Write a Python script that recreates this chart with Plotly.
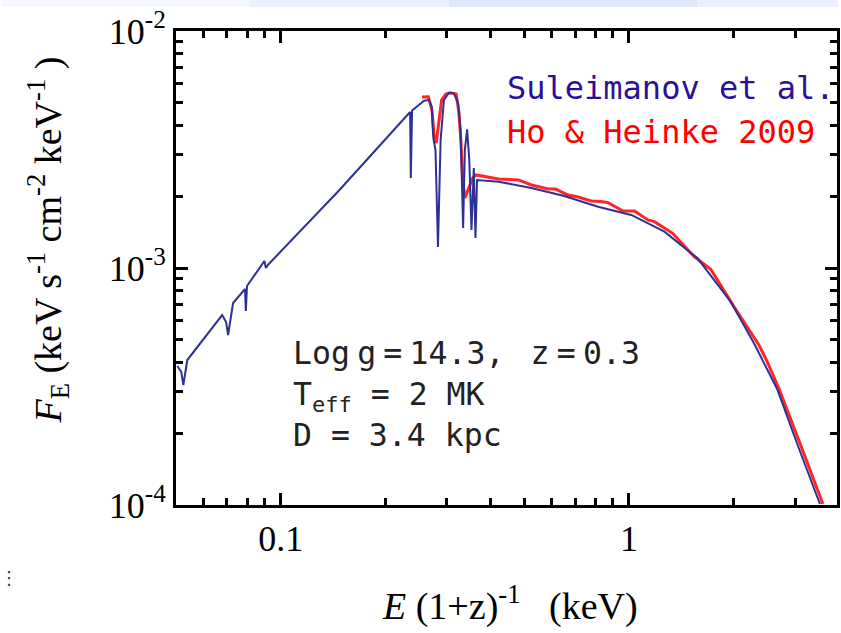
import plotly.graph_objects as go

# ---- data ----
# Suleimanov et al. model spectrum (blue)
sul_E = [0.05045, 0.05180, 0.05248, 0.05388, 0.06784, 0.06965, 0.07057, 0.07293,
         0.07893, 0.07935, 0.07998, 0.08883, 0.08972, 0.09061, 0.09180, 0.1474,
         0.2352, 0.2363, 0.2383, 0.2579, 0.2665, 0.2713, 0.2742, 0.2782, 0.2828,
         0.2878, 0.2942, 0.3040, 0.3142, 0.3232, 0.3283, 0.3340, 0.3378, 0.3429,
         0.3479, 0.3530, 0.3584, 0.3624, 0.3662, 0.4224, 0.5248, 0.6520, 0.8154,
         1.0153, 1.2647, 1.5745, 1.960, 2.287, 2.665, 3.060, 3.537]
sul_F = [3.859e-4, 3.640e-4, 3.209e-4, 4.090e-4, 6.333e-4, 5.919e-4, 5.215e-4, 7.117e-4,
         8.156e-4, 6.584e-4, 8.396e-4, 1.050e-3, 1.070e-3, 1.000e-3, 1.030e-3, 2.134e-3,
         4.551e-3, 2.398e-3, 4.618e-3, 5.081e-3, 5.115e-3, 4.792e-3, 3.537e-3, 3.147e-3, 1.226e-3,
         3.469e-3, 5.115e-3, 5.491e-3, 5.459e-3, 4.954e-3, 3.822e-3, 1.475e-3, 3.147e-3, 3.849e-3,
         2.856e-3, 1.447e-3, 2.642e-3, 1.339e-3, 2.352e-3, 2.313e-3, 2.176e-3, 2.013e-3, 1.814e-3,
         1.674e-3, 1.423e-3, 1.099e-3, 7.207e-4, 4.813e-4, 3.086e-4, 1.774e-4, 1.010e-4]

# Ho & Heinke 2009 model spectrum (red)
ho_E = [0.2545, 0.2653, 0.2718, 0.2754, 0.2796, 0.2846, 0.2897, 0.2981, 0.3074, 0.3190,
        0.3247, 0.3290, 0.3333, 0.3378, 0.3483, 0.3560, 0.3638, 0.4224, 0.4818, 0.5248,
        0.5871, 0.6148, 0.6694, 0.7150, 0.7788, 0.8318, 0.8710, 0.9613, 1.0382, 1.1330,
        1.1841, 1.3358, 1.5407, 1.7184, 2.0045, 2.287, 2.3627, 2.4955, 2.700, 3.121, 3.607]
ho_F = [5.267e-3, 5.282e-3, 4.642e-3, 3.642e-3, 3.369e-3, 4.212e-3, 5.115e-3, 5.422e-3, 5.491e-3, 5.422e-3,
        4.551e-3, 3.469e-3, 2.352e-3, 1.974e-3, 2.197e-3, 2.398e-3, 2.469e-3, 2.375e-3, 2.352e-3, 2.240e-3,
        2.154e-3, 2.154e-3, 2.032e-3, 1.993e-3, 1.918e-3, 1.908e-3, 1.886e-3, 1.740e-3, 1.740e-3, 1.595e-3,
        1.569e-3, 1.401e-3, 1.116e-3, 9.875e-4, 6.866e-4, 5.130e-4, 4.734e-4, 4.025e-4, 3.086e-4, 1.774e-4, 1.010e-4]

x_major = [0.1, 1]
x_major_text = ["0.1", "1"]
x_minor = [0.06, 0.07, 0.08, 0.09, 0.2, 0.3, 0.4, 0.5, 0.6, 0.7, 0.8, 0.9, 2, 3]
y_major = [1e-4, 1e-3, 1e-2]
y_major_text = ["10<sup>-4</sup>", "10<sup>-3</sup>", "10<sup>-2</sup>"]
y_minor = [2e-4, 3e-4, 4e-4, 5e-4, 6e-4, 7e-4, 8e-4, 9e-4,
           2e-3, 3e-3, 4e-3, 5e-3, 6e-3, 7e-3, 8e-3, 9e-3]

BLUE = "#2e3192"
RED = "#ff2428"
SERIF = "Liberation Serif"
MONO = "DejaVu Sans Mono"

fig = go.Figure()
fig.add_trace(go.Scatter(x=ho_E, y=ho_F, mode="lines", name="Ho & Heinke 2009",
                         line=dict(color=RED, width=3), showlegend=False))
fig.add_trace(go.Scatter(x=sul_E, y=sul_F, mode="lines", name="Suleimanov et al.",
                         line=dict(color=BLUE, width=2), showlegend=False))

L, R, T, B = 176, 1, 31, 128
W, H = 841, 633
pw, ph = W - L - R, H - T - B


def px(x):
    return (x - L) / pw


def py(y):
    return (H - B - y) / ph


axis_common = dict(showline=True, linecolor="black", linewidth=3, mirror="allticks",
                   ticks="inside", ticklen=12, tickwidth=3, tickcolor="black",
                   showgrid=False, zeroline=False,
                   tickfont=dict(family=SERIF, size=36, color="black"))

fig.update_xaxes(type="log", range=[-1.30103, 0.5977], tickvals=x_major, ticktext=x_major_text,
                 minor=dict(tickvals=x_minor, ticks="inside", ticklen=7, tickwidth=2.5,
                            tickcolor="black", showgrid=False),
                 **axis_common)
fig.update_yaxes(type="log", range=[-4, -2], tickvals=y_major, ticktext=y_major_text,
                 minor=dict(tickvals=y_minor, ticks="inside", ticklen=7, tickwidth=2.5,
                            tickcolor="black", showgrid=False),
                 **axis_common)

thin = "<span style='font-size:12px'> </span>"
annotations = [
    dict(text="Suleimanov et al.", x=px(506), y=py(88), xanchor="left", yanchor="middle",
         font=dict(family=MONO, size=32, color="#2b0f99")),
    dict(text="Ho & Heinke 2009", x=px(506), y=py(132), xanchor="left", yanchor="middle",
         font=dict(family=MONO, size=32, color="#ff0000")),
    dict(text="Log" + thin + "g" + thin + "=" + thin + "14.3, " + thin + "z" + thin + "=" + thin + "0.3<br>"
              "T<sub>eff</sub> = 2 MK<br>D = 3.4 kpc",
         x=px(292), y=py(394), xanchor="left", yanchor="middle", align="left",
         font=dict(family=MONO, size=31.5, color="#222222")),
    dict(text="<i>F</i><sub>E</sub> (keV s<sup>-1</sup> cm<sup>-2</sup> keV<sup>-1</sup> )",
         x=px(47), y=py(240), textangle=-90, xanchor="center", yanchor="middle",
         font=dict(family=SERIF, size=38, color="black")),
    dict(text="<i>E</i> (1+z)<sup>-1</sup>   (keV)",
         x=px(512), y=py(603), xanchor="center", yanchor="middle",
         font=dict(family=SERIF, size=38, color="black")),
    dict(text="⋮", x=px(8), y=py(577), xanchor="center", yanchor="middle",
         font=dict(family="DejaVu Sans", size=18, color="#333333")),
]
for a in annotations:
    a.update(xref="paper", yref="paper", showarrow=False)

band = [(0, 250, "#f5f8fe"), (250, 450, "#ebf1fd"), (450, 700, "#dde8fb"), (700, 841, "#eaf1fd")]
shapes = [dict(type="rect", xref="paper", yref="paper", x0=px(a), x1=px(b), y0=py(7), y1=py(0),
               fillcolor=c, line=dict(width=0), layer="below") for a, b, c in band]

fig.update_layout(width=W, height=H, margin=dict(l=L, r=R, t=T, b=B),
                  paper_bgcolor="white", plot_bgcolor="white",
                  annotations=annotations, shapes=shapes)

fig.write_html("out.html")
